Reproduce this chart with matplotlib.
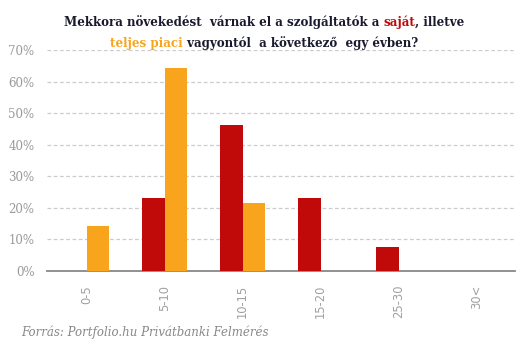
import matplotlib
matplotlib.use("Agg")
import matplotlib.pyplot as plt
import numpy as np

categories = ["0-5", "5-10", "10-15", "15-20", "25-30", "30<"]
sajat = [0, 23.1, 46.2, 23.1, 7.7, 0]
teljes = [14.3, 64.3, 21.4, 0, 0, 0]
yticks = [0, 10, 20, 30, 40, 50, 60, 70]

RED = "#C00A0A"
ORANGE = "#F8A51D"
GRAY = "#999999"

W, H = 531, 342
fig = plt.figure(figsize=(W / 100, H / 100), dpi=100)
ax = fig.add_axes([47 / W, 1 - 271 / H, (515 - 47) / W, (271 - 50) / H])

x = np.arange(len(categories))
bw = 0.29
ax.bar(x - bw / 2, sajat, width=bw, color=RED, zorder=3)
ax.bar(x + bw / 2, teljes, width=bw, color=ORANGE, zorder=3)

ax.set_xlim(-0.51, 5.49)
ax.set_ylim(0, 70)
ax.set_yticks(yticks)
ax.set_yticklabels([f"{v}%" for v in yticks], fontsize=8.5, color=GRAY,
                   family="DejaVu Serif")
ax.set_xticks(x)
ax.set_xticklabels(categories, rotation=90, fontsize=8.3, color="#a0a0a0",
                   family="DejaVu Sans", va="top")
ax.tick_params(axis="both", length=0)
ax.tick_params(axis="y", pad=9)
ax.tick_params(axis="x", pad=10)
for v in yticks[1:]:
    ax.axhline(v, color="#cccccc", lw=0.9, ls=(0, (3, 2)), zorder=1)
for s in ["top", "right", "left"]:
    ax.spines[s].set_visible(False)
ax.spines["bottom"].set_color("#888888")
ax.spines["bottom"].set_linewidth(1.3)

renderer = fig.canvas.get_renderer()

def colored_line(pieces, cx, y, fs):
    texts = []
    for s, c in pieces:
        t = fig.text(0, y, s, color=c, fontsize=fs, fontweight="bold",
                     family="DejaVu Serif", va="baseline", ha="left")
        texts.append(t)
    widths = [t.get_window_extent(renderer).width for t in texts]
    total = sum(widths)
    xpix = cx - total / 2
    for t, w in zip(texts, widths):
        t.set_x(xpix / W)
        xpix += w

DARK = "#1a1a2e"
colored_line([("Mekkora növekedést  várnak el a szolgáltatók a ", DARK),
              ("saját", RED), (", illetve", DARK)], 264, 1 - 26 / H, 8.6)
colored_line([("teljes piaci", ORANGE),
              (" vagyontól  a következő  egy évben?", DARK)], 264, 1 - 47 / H, 8.6)

fig.text(21 / W, 1 - 336 / H, "Forrás: Portfolio.hu Privátbanki Felmérés",
         fontsize=8.5, color="#888888", style="italic", family="DejaVu Serif",
         va="baseline")

fig.savefig("out.png", dpi=100)
